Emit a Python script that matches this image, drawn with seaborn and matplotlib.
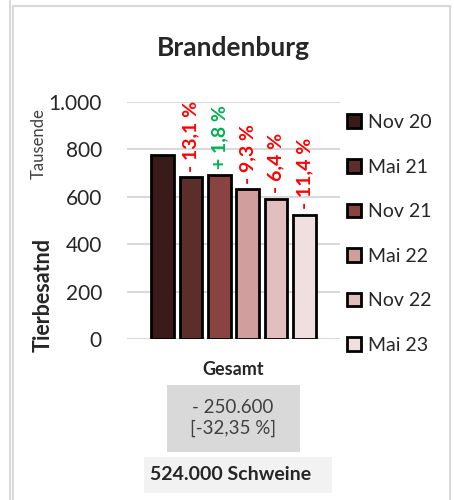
import pandas as pd
import seaborn as sns
import matplotlib.pyplot as plt
from matplotlib.patches import Rectangle
from matplotlib.lines import Line2D

# Daten (Tierbesatz in Tausend)
zeitpunkte = ['Nov 20', 'Mai 21', 'Nov 21', 'Mai 22', 'Nov 22', 'Mai 23']
bestand = [774.6, 682, 694, 632, 591, 524]
veraenderung = ['', '- 13,1 %', '+ 1,8 %', '- 9,3 %', '- 6,4 %', '- 11,4 %']
farben = ['#3f1614', '#632523', '#953735', '#d99694', '#e6b9b8', '#f2dcdb']
kategorie = ['Gesamt'] * len(zeitpunkte)
yticks = [0, 200, 400, 600, 800, 1000]
ytick_labels = ['0', '200', '400', '600', '800', '1.000']

df = pd.DataFrame({'Kategorie': kategorie, 'Zeitpunkt': zeitpunkte, 'Bestand': bestand})

sns.set_style('white')
plt.rcParams['font.family'] = ['Lato', 'DejaVu Sans']

fig = plt.figure(figsize=(4.54, 5.0), dpi=100)
W, H = 454, 500

# Rahmen wie im Excel-Diagramm
fig.add_artist(Line2D([10 / W, 10 / W], [0, 1], color='#d9d9d9', lw=1.5))
fig.add_artist(Rectangle((13 / W, -0.05), 437 / W, 1.05 - 6 / H, transform=fig.transFigure,
                         fill=False, edgecolor='#d9d9d9', lw=1.5))

ax = fig.add_axes([127 / W, 1 - 339 / H, 213 / W, 237 / H])
sns.barplot(data=df, x='Kategorie', y='Bestand', hue='Zeitpunkt', palette=farben,
            width=0.8, gap=0.2, edgecolor='black', linewidth=2, ax=ax)

ax.set_ylim(0, 1000)
ax.set_yticks(yticks)
ax.set_yticklabels(ytick_labels, fontsize=15)
ax.yaxis.grid(True, color='#d9d9d9', lw=1.5)
ax.set_axisbelow(True)
for s in ax.spines.values():
    s.set_visible(False)
ax.tick_params(axis='y', length=0, pad=18)
ax.tick_params(axis='x', length=0)
ax.set_xticklabels([])
ax.set_xlabel('Gesamt', fontsize=13, fontweight='bold', labelpad=12)
ax.set_ylabel('')

# Prozentuale Veränderung über den Balken
for cont, txt in zip(ax.containers, veraenderung):
    if not txt:
        continue
    bar = cont.patches[0]
    farbe = '#00b050' if txt.startswith('+') else '#ff0000'
    ax.annotate(txt, (bar.get_x() + bar.get_width() / 2, bar.get_height()),
                xytext=(0, 4), textcoords='offset points', rotation=90,
                ha='center', va='bottom', color=farbe, fontsize=14, fontweight='bold')

# Achsentitel
fig.text(43 / W, 1 - 295 / H, 'Tierbesatnd', rotation=90, ha='center', va='center',
         fontsize=15.5, fontweight='bold')
fig.text(39 / W, 1 - 144 / H, 'Tausende', rotation=90, ha='center', va='center',
         fontsize=12, color='#404040')

fig.text(233 / W, 1 - 48 / H, 'Brandenburg', ha='center', va='center',
         fontsize=19, fontweight='bold')

# Legende
handles, labels = ax.get_legend_handles_labels()
ax.legend(handles, labels, loc='upper left', bbox_to_anchor=(347 / W, 1 - 114 / H),
          bbox_transform=fig.transFigure, frameon=False, fontsize=14,
          borderpad=0, borderaxespad=0,
          handlelength=0.7, handleheight=0.7, handletextpad=0.4, labelspacing=1.42)

# Info-Kästen unten
fig.add_artist(Rectangle((167 / W, 1 - 452 / H), 133 / W, 67 / H, transform=fig.transFigure,
                         facecolor='#d9d9d9', edgecolor='none'))
fig.text(233 / W, 1 - 418 / H, '- 250.600\n[-32,35 %]', ha='center', va='center',
         fontsize=13.5, color='#404040', linespacing=1.3)
fig.add_artist(Rectangle((144 / W, 1 - 493 / H), 188 / W, 36 / H, transform=fig.transFigure,
                         facecolor='#f2f2f2', edgecolor='none'))
fig.text(231 / W, 1 - 475 / H, '524.000 Schweine', ha='center', va='center',
         fontsize=14, fontweight='bold')

fig.savefig('out.png', dpi=100)
